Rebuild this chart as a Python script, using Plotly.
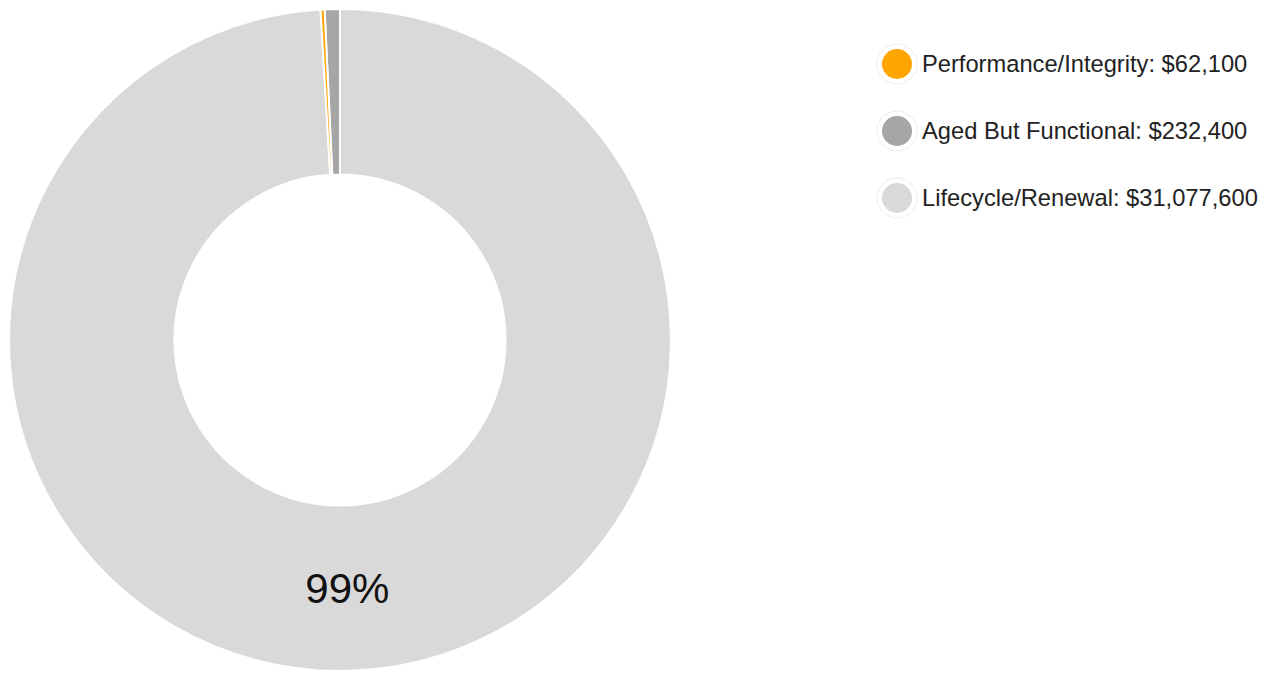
import plotly.graph_objects as go

W, H = 1272, 673

labels = ["Performance/Integrity", "Aged But Functional", "Lifecycle/Renewal"]
values = [62100, 232400, 31077600]
colors = ["#FFA500", "#A6A6A6", "#D9D9D9"]

fig = go.Figure()

# donut geometry (pixels)
cx, cy, r = 340, 340, 331
fig.add_trace(go.Pie(
    labels=labels,
    values=values,
    marker=dict(colors=colors, line=dict(color="white", width=2)),
    hole=0.5,
    sort=True,
    direction="counterclockwise",
    rotation=0,
    texttemplate="%{percent:.0%}",
    textposition=["inside" if v == max(values) else "none" for v in values],
    insidetextorientation="horizontal",
    textfont=dict(family="Liberation Sans, Arial, sans-serif", size=42, color="#111111"),
    showlegend=False,
    hoverinfo="label+value+percent",
    domain=dict(x=[(cx - r) / W, (cx + r) / W], y=[(H - cy - r) / H, (H - cy + r) / H]),
))

# custom legend with circular markers
shapes = []
annotations = []
lx, ly0, dy = 897, 64, 67
for i, (lab, val, col) in enumerate(zip(labels, values, colors)):
    y = ly0 + i * dy
    yp = (H - y) / H
    xp = lx / W
    shapes.append(dict(type="circle", xref="paper", yref="paper",
                       xsizemode="pixel", ysizemode="pixel",
                       xanchor=xp, yanchor=yp, x0=-20, x1=20, y0=-20, y1=20,
                       fillcolor="white", line=dict(color="#ececec", width=1)))
    shapes.append(dict(type="circle", xref="paper", yref="paper",
                       xsizemode="pixel", ysizemode="pixel",
                       xanchor=xp, yanchor=yp, x0=-15, x1=15, y0=-15, y1=15,
                       fillcolor=col, line=dict(color=col, width=0)))
    annotations.append(dict(xref="paper", yref="paper", x=920 / W, y=yp,
                            xanchor="left", yanchor="middle", showarrow=False,
                            text=f"{lab}: ${val:,}",
                            font=dict(family="Liberation Sans, Arial, sans-serif",
                                      size=23.7, color="#222222")))

fig.update_layout(
    width=W, height=H,
    margin=dict(l=0, r=0, t=0, b=0),
    paper_bgcolor="white", plot_bgcolor="white",
    shapes=shapes, annotations=annotations,
)

fig.write_html("out.html")
